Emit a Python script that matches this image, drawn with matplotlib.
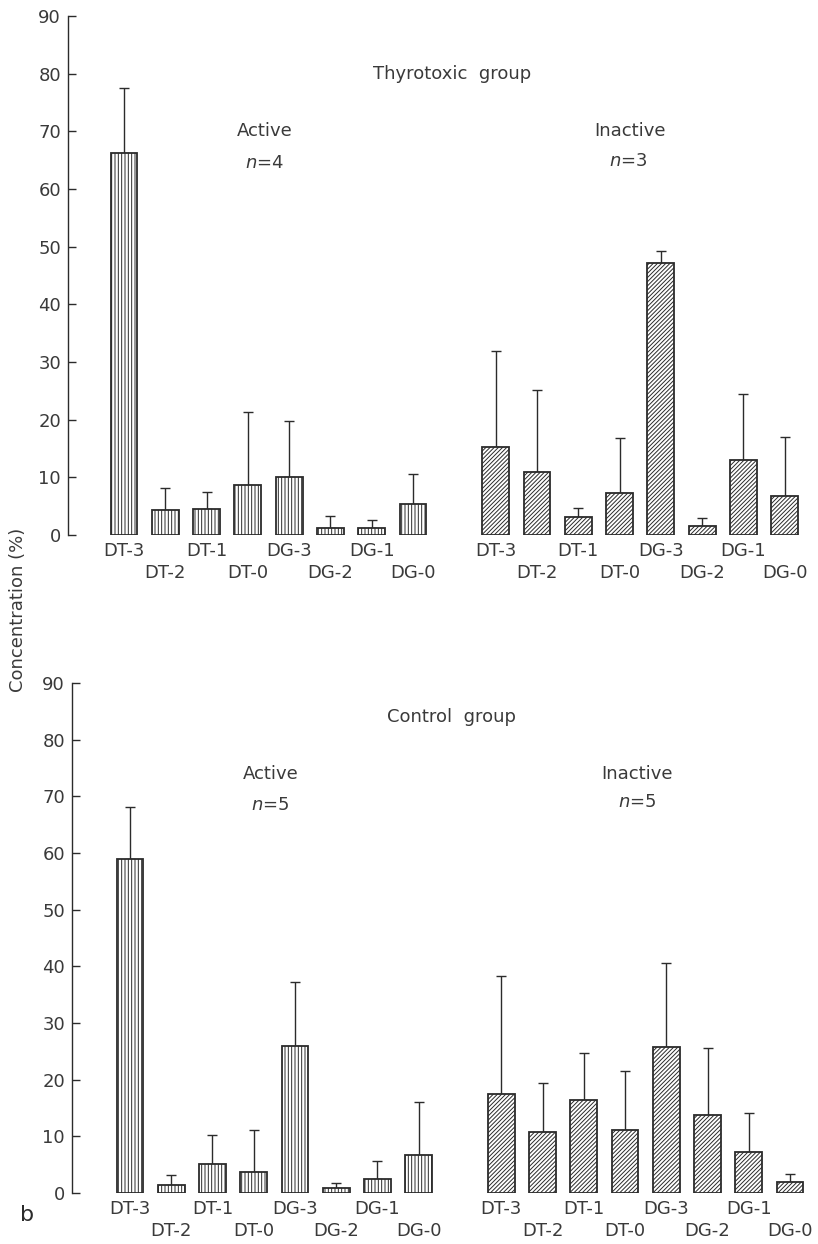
import numpy as np
import matplotlib
matplotlib.use('Agg')
import matplotlib.pyplot as plt

# fractions measured (percent of total), mean and upper error
labels = ['DT-3', 'DT-2', 'DT-1', 'DT-0', 'DG-3', 'DG-2', 'DG-1', 'DG-0']

thy_active = [66.3, 4.3, 4.6, 8.6, 10.1, 1.2, 1.2, 5.4]
thy_active_err = [11.3, 3.8, 2.9, 12.7, 9.7, 2.1, 1.4, 5.2]
thy_inactive = [15.3, 10.9, 3.1, 7.3, 47.1, 1.6, 13.0, 6.8]
thy_inactive_err = [16.6, 14.2, 1.6, 9.5, 2.1, 1.3, 11.4, 10.2]

ctl_active = [58.9, 1.4, 5.1, 3.7, 25.9, 0.9, 2.5, 6.7]
ctl_active_err = [9.2, 1.8, 5.1, 7.4, 11.3, 0.8, 3.2, 9.3]
ctl_inactive = [17.4, 10.8, 16.4, 11.1, 25.8, 13.8, 7.2, 1.9]
ctl_inactive_err = [20.9, 8.6, 8.3, 10.4, 14.8, 11.8, 6.9, 1.5]

INK = '#2b2b2b'
TXT = '#3a3a3a'
plt.rcParams['font.family'] = ['DejaVu Sans']
plt.rcParams['hatch.linewidth'] = 0.7
plt.rcParams['hatch.color'] = INK
plt.rcParams['mathtext.fontset'] = 'dejavusans'

pos_active = np.arange(8)
pos_inactive = np.arange(8) + 9
W = 0.65


def draw_panel(ax, act, act_err, inact, inact_err, xlim):
    for pos, vals, errs, hatch in [(pos_active, act, act_err, '|||||'),
                                   (pos_inactive, inact, inact_err, '////////')]:
        ax.bar(pos, vals, width=W, color='white', edgecolor=INK,
               linewidth=1.3, hatch=hatch, zorder=2)
        ax.errorbar(pos, vals, yerr=[np.zeros(len(vals)), errs], fmt='none',
                    ecolor=INK, elinewidth=1.0, capsize=3.5, capthick=1.0, zorder=1)

    ax.set_xlim(*xlim)
    ax.set_ylim(0, 90)
    for s in ['top', 'right', 'bottom']:
        ax.spines[s].set_visible(False)
    ax.spines['left'].set_color(INK)
    ax.spines['left'].set_linewidth(1.0)
    ax.set_yticks(range(0, 91, 10))
    ax.tick_params(axis='y', direction='in', length=6, width=1.0, color=INK,
                   labelsize=13, labelcolor=TXT, pad=5)

    # staggered category labels: even ones on the first row, odd ones below
    allpos = np.concatenate([pos_active, pos_inactive])
    alllab = labels + labels
    ax.set_xticks(allpos[0::2], alllab[0::2])
    ax.set_xticks(allpos[1::2], alllab[1::2], minor=True)
    ax.tick_params(axis='x', which='both', length=0, labelsize=13, labelcolor=TXT)
    ax.tick_params(axis='x', which='major', pad=5)
    ax.tick_params(axis='x', which='minor', pad=21)


fig = plt.figure(figsize=(8.18, 12.44), dpi=100)

ax1 = fig.add_axes([0.0831, 0.5699, 0.907, 0.4172])
draw_panel(ax1, thy_active, thy_active_err, thy_inactive, thy_inactive_err, (-1.356, 16.61))
ax1.text(7.95, 80, 'Thyrotoxic  group', ha='center', va='center', fontsize=13, color=TXT)
ax1.text(3.4, 70, 'Active', ha='center', va='center', fontsize=13, color=TXT)
ax1.text(3.4, 64.5, r'$n$=4', ha='center', va='center', fontsize=13, color=TXT)
ax1.text(12.25, 70, 'Inactive', ha='center', va='center', fontsize=13, color=TXT)
ax1.text(12.2, 64.8, r'$n$=3', ha='center', va='center', fontsize=13, color=TXT)

ax2 = fig.add_axes([0.088, 0.041, 0.902, 0.410])
draw_panel(ax2, ctl_active, ctl_active_err, ctl_inactive, ctl_inactive_err, (-1.406, 16.48))
ax2.text(7.8, 84, 'Control  group', ha='center', va='center', fontsize=13, color=TXT)
ax2.text(3.4, 74, 'Active', ha='center', va='center', fontsize=13, color=TXT)
ax2.text(3.4, 68.4, r'$n$=5', ha='center', va='center', fontsize=13, color=TXT)
ax2.text(12.3, 74, 'Inactive', ha='center', va='center', fontsize=13, color=TXT)
ax2.text(12.3, 69, r'$n$=5', ha='center', va='center', fontsize=13, color=TXT)

fig.text(0.022, 0.51, 'Concentration (%)', rotation=90, ha='center', va='center',
         fontsize=13, color=TXT)
fig.text(0.033, 0.023, 'b', ha='center', va='center', fontsize=16, color=INK)

fig.savefig('out.png', dpi=100, facecolor='white')
